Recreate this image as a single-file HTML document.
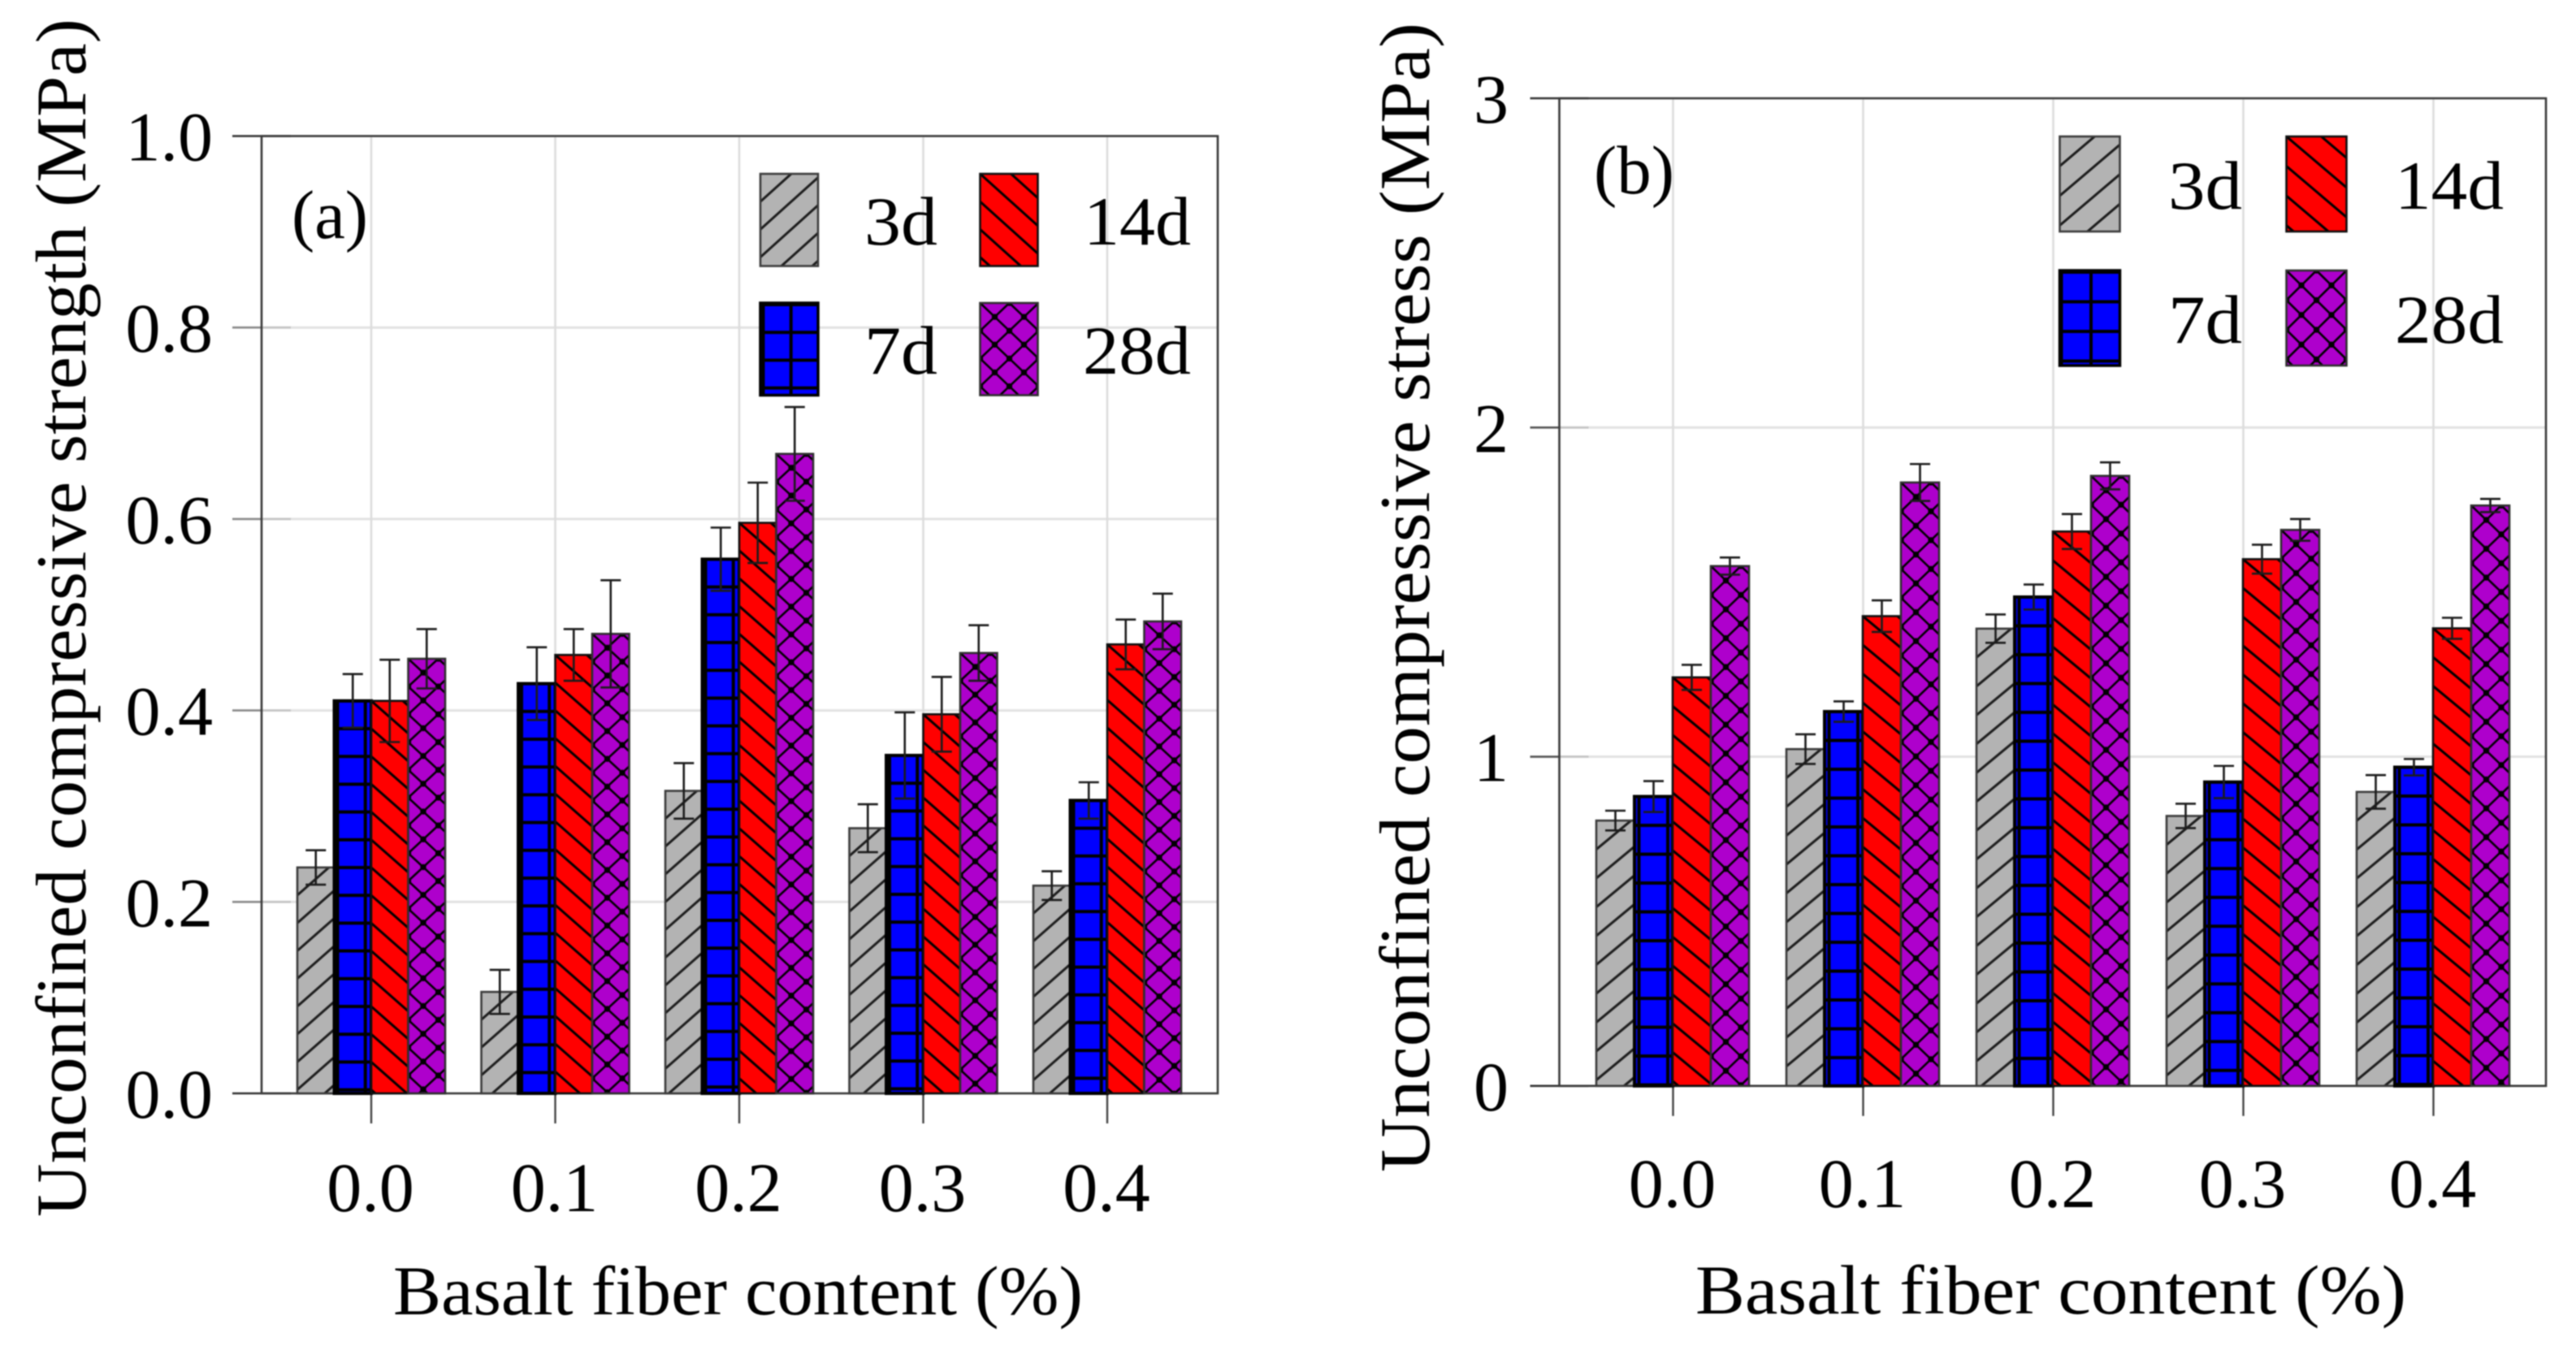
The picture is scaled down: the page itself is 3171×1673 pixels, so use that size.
<!DOCTYPE html>
<html>
<head>
<meta charset="utf-8">
<title>Unconfined compressive strength and stress vs basalt fiber content</title>
<style>
html,body{margin:0;padding:0;background:#fff;width:3171px;height:1673px;overflow:hidden}
#chart{display:block;filter:blur(0.7px)}
text{font-family:"Liberation Serif",serif;fill:#000}
</style>
</head>
<body>
<svg id="chart" xmlns="http://www.w3.org/2000/svg" width="3171" height="1673" viewBox="0 0 3171 1673">
  <defs id="defs"></defs>
  <g id="panel-a"></g>
  <g id="panel-b"></g>

  <text x="105" y="1498" font-size="88" textLength="1475" lengthAdjust="spacingAndGlyphs" transform="rotate(-90 105 1498)">Unconfined compressive strength (MPa)</text>
  <text x="484" y="1618" font-size="86" textLength="849" lengthAdjust="spacingAndGlyphs">Basalt fiber content (%)</text>
  <text x="359" y="293" font-size="85" textLength="94" lengthAdjust="spacingAndGlyphs">(a)</text>
  <text x="1064" y="301" font-size="85" textLength="90" lengthAdjust="spacingAndGlyphs">3d</text>
  <text x="1334" y="301" font-size="85" textLength="132" lengthAdjust="spacingAndGlyphs">14d</text>
  <text x="1064" y="460" font-size="85" textLength="90" lengthAdjust="spacingAndGlyphs">7d</text>
  <text x="1333" y="460" font-size="85" textLength="133" lengthAdjust="spacingAndGlyphs">28d</text>

  <text x="1759" y="1443" font-size="88" textLength="1415" lengthAdjust="spacingAndGlyphs" transform="rotate(-90 1759 1443)">Unconfined compressive stress (MPa)</text>
  <text x="2087" y="1617" font-size="86" textLength="875" lengthAdjust="spacingAndGlyphs">Basalt fiber content (%)</text>
  <text x="1962" y="238" font-size="85" textLength="99" lengthAdjust="spacingAndGlyphs">(b)</text>
  <text x="2669" y="257" font-size="85" textLength="91" lengthAdjust="spacingAndGlyphs">3d</text>
  <text x="2948" y="257" font-size="85" textLength="134" lengthAdjust="spacingAndGlyphs">14d</text>
  <text x="2669" y="422" font-size="85" textLength="91" lengthAdjust="spacingAndGlyphs">7d</text>
  <text x="2948" y="422" font-size="85" textLength="134" lengthAdjust="spacingAndGlyphs">28d</text>
</svg>

<script>
// ---------- chart data ----------
const categories = ['0.0', '0.1', '0.2', '0.3', '0.4'];
const seriesNames = ['3d', '7d', '14d', '28d'];

const yTickValuesA = [0, 0.2, 0.4, 0.6, 0.8, 1.0];
const yTickLabelsA = ['0.0', '0.2', '0.4', '0.6', '0.8', '1.0'];
const yTickValuesB = [0, 1, 2, 3];
const yTickLabelsB = ['0', '1', '2', '3'];

// Panel (a): unconfined compressive strength, MPa
const strength3d  = [0.236, 0.106, 0.316, 0.277, 0.217];
const strength7d  = [0.410, 0.428, 0.558, 0.353, 0.306];
const strength14d = [0.410, 0.458, 0.596, 0.396, 0.469];
const strength28d = [0.454, 0.480, 0.668, 0.460, 0.493];
const strengthErr3d  = [0.018, 0.023, 0.029, 0.025, 0.015];
const strengthErr7d  = [0.028, 0.038, 0.033, 0.045, 0.019];
const strengthErr14d = [0.043, 0.027, 0.042, 0.039, 0.026];
const strengthErr28d = [0.031, 0.056, 0.049, 0.029, 0.029];

// Panel (b): unconfined compressive stress, MPa
const stress3d  = [0.806, 1.023, 1.389, 0.820, 0.893];
const stress7d  = [0.879, 1.137, 1.485, 0.923, 0.968];
const stress14d = [1.241, 1.427, 1.684, 1.600, 1.390];
const stress28d = [1.579, 1.833, 1.853, 1.689, 1.763];
const stressErr3d  = [0.030, 0.045, 0.043, 0.037, 0.051];
const stressErr7d  = [0.047, 0.031, 0.038, 0.049, 0.025];
const stressErr14d = [0.038, 0.048, 0.053, 0.044, 0.032];
const stressErr28d = [0.026, 0.056, 0.041, 0.033, 0.020];

// ---------- drawing ----------
const NS = 'http://www.w3.org/2000/svg';
const defs = document.getElementById('defs');
let patternCount = 0;

function mk(tag, parent, attrs, txt) {
  const e = document.createElementNS(NS, tag);
  for (const k in attrs) e.setAttribute(k, attrs[k]);
  if (txt !== undefined) e.textContent = txt;
  parent.appendChild(e);
  return e;
}

const seriesFill = ['#b3b3b3', '#0000ff', '#ff0000', '#ae00cc'];
const seriesStroke = ['#3c3c3c', '#000000', '#101010', '#303030'];
const seriesStrokeW = [2.6, 4, 2.6, 2.6];

function hatchFill(seriesIdx, x, y, style) {
  const id = 'hatch' + (patternCount++);
  const h = style.period;
  const w = seriesIdx === 1 ? style.period : (seriesIdx === 3 ? style.knotW : style.period / style.slope);
  const p = mk('pattern', defs, {
    id: id, patternUnits: 'userSpaceOnUse', width: w, height: h,
    patternTransform: 'translate(' + x + ' ' + (y + (seriesIdx === 1 ? style.gridY : 0)) + ')'
  });
  mk('rect', p, {x: 0, y: 0, width: w, height: h, fill: seriesFill[seriesIdx]});
  const ln = (x1, y1, x2, y2, sw, col) => mk('line', p, {x1, y1, x2, y2, stroke: col, 'stroke-width': sw});
  const hatchCol = seriesIdx === 0 ? '#1c1c1c' : '#000';
  const hatchW = seriesIdx === 3 ? 2.6 : 3;
  if (seriesIdx === 0 || seriesIdx === 3) {
    [-w, 0, w].forEach(d => ln(-w + d, 2 * h, 2 * w + d, -h, hatchW, hatchCol));
  }
  if (seriesIdx === 2 || seriesIdx === 3) {
    [-w, 0, w].forEach(d => ln(-w + d, -h, 2 * w + d, 2 * h, hatchW, hatchCol));
  }
  if (seriesIdx === 1) {
    ln(0, 0, w, 0, 4, '#000');
    ln(0, h, w, h, 4, '#000');
    ln(style.gridX, 0, style.gridX, h, 4, '#000');
  }
  if (seriesIdx === 3) {
    mk('circle', p, {cx: w / 2, cy: h / 2, r: 3.7, fill: '#000'});
    [[0, 0], [w, 0], [0, h], [w, h]].forEach(c => mk('circle', p, {cx: c[0], cy: c[1], r: 3.7, fill: '#000'}));
  }
  return 'url(#' + id + ')';
}

function drawPanel(cfg) {
  const g = document.getElementById(cfg.gid);
  const yScale = v => cfg.y0 - (v / cfg.yMax) * (cfg.y0 - cfg.yTop);
  const catX = i => cfg.cat0 + i * cfg.catStep;
  const barX = (i, s) => cfg.bar0 + i * cfg.catStep + s * cfg.barW;

  // gridlines
  cfg.yTickValues.forEach(v => {
    const gl = mk('line', g, {x1: cfg.xLeft, x2: cfg.xRight, y1: yScale(v), y2: yScale(v), stroke: '#e2e2e2', 'stroke-width': 3});
    
    
  });
  categories.forEach((c, i) => {
    const gl = mk('line', g, {x1: catX(i), x2: catX(i), y1: cfg.yTop, y2: cfg.y0, stroke: '#dcdcdc', 'stroke-width': 2.5});
    
    
  });

  // y ticks and labels
  cfg.yTickValues.forEach((v, i) => {
    const outer = mk('line', g, {x1: cfg.xLeft - 36, x2: cfg.xLeft, y1: yScale(v), y2: yScale(v), stroke: v === 0 || v === cfg.yMax ? '#333' : cfg.tickCol, 'stroke-width': 2.6});
    
    
    const inner = mk('line', g, {x1: cfg.xLeft, x2: cfg.xLeft + 36, y1: yScale(v), y2: yScale(v), stroke: v === 0 || v === cfg.yMax ? '#444' : '#c4c4c4', 'stroke-width': 2.6});
    
    
    const lab = mk('text', g, {x: cfg.yLabelX, y: yScale(v) + 30, 'font-size': 86, 'text-anchor': 'end'}, cfg.yTickLabels[i]);
    
    
  });

  // x ticks and labels
  categories.forEach((c, i) => {
    const t = mk('line', g, {x1: catX(i), x2: catX(i), y1: cfg.y0, y2: cfg.y0 + 37, stroke: '#444', 'stroke-width': 2.4});
    
    
    const lab = mk('text', g, {x: catX(i) - 1, y: cfg.xLabelY, 'font-size': 86, 'text-anchor': 'middle'}, c);
    
    
  });

  // plot frame
  const frame = mk('path', g, {
    d: 'M' + cfg.xLeft + ' ' + cfg.y0 + ' V' + cfg.yTop + ' H' + cfg.xRight + ' V' + cfg.y0 + ' Z',
    fill: 'none', stroke: '#3a3a3a', 'stroke-width': 2.6
  });
  
  

  // bars
  cfg.values.forEach((vals, s) => {
    vals.forEach((v, i) => {
      const x = barX(i, s), top = yScale(v);
      const r = mk('rect', g, {
        x: x, y: top, width: cfg.barW, height: cfg.y0 - top,
        fill: hatchFill(s, x, top, cfg.hatch),
        stroke: seriesStroke[s], 'stroke-width': seriesStrokeW[s]
      });
      
      
      r.setAttribute('data-series', seriesNames[s]);
      r.setAttribute('data-category', categories[i]);
    });
  });

  // error bars, on top of all bars
  cfg.values.forEach((vals, s) => {
    vals.forEach((v, i) => {
      const cx = barX(i, s) + cfg.barW / 2;
      const e = cfg.errors[s][i];
      const yU = yScale(v + e), yL = yScale(v - e);
      const d = 'M' + cx + ' ' + yU + ' V' + yL +
        ' M' + (cx - 12.5) + ' ' + yU + ' H' + (cx + 12.5) +
        ' M' + (cx - 12.5) + ' ' + yL + ' H' + (cx + 12.5);
      const eb = mk('path', g, {d: d, fill: 'none', stroke: '#1c1c1c', 'stroke-width': 2.6});
      
      
    });
  });

  // legend swatches
  cfg.legend.forEach(sw => {
    const r = mk('rect', g, {
      x: sw.x, y: sw.y, width: cfg.legendW, height: cfg.legendH,
      fill: hatchFill(sw.s, sw.x, sw.y, cfg.legendHatch),
      stroke: seriesStroke[sw.s], 'stroke-width': sw.s === 1 ? 3.5 : 2.6
    });
    
    
  });
}

drawPanel({
  gid: 'panel-a',
  xLeft: 322, xRight: 1499, yTop: 167.5, y0: 1346, yMax: 1.0,
  cat0: 457, catStep: 226.5, bar0: 366, barW: 45.5,
  yLabelX: 262, xLabelY: 1491, tickCol: '#8a8a8a',
  yTickValues: yTickValuesA, yTickLabels: yTickLabelsA,
  values: [strength3d, strength7d, strength14d, strength28d],
  errors: [strengthErr3d, strengthErr7d, strengthErr14d, strengthErr28d],
  hatch: {period: 34.2, slope: 0.88, gridX: 4, gridY: 0, knotW: 37},
  legendHatch: {period: 34.2, slope: 0.9, gridX: 3.5, gridY: 2, knotW: 36},
  legendW: 71, legendH: 113.5,
  legend: [{s: 0, x: 936, y: 214}, {s: 2, x: 1206.5, y: 214}, {s: 1, x: 936, y: 373}, {s: 3, x: 1206.5, y: 373}]
});

drawPanel({
  gid: 'panel-b',
  xLeft: 1919.5, xRight: 3134, yTop: 121, y0: 1336.8, yMax: 3,
  cat0: 2059.5, catStep: 234, bar0: 1965, barW: 47,
  yLabelX: 1857, xLabelY: 1486, tickCol: '#555',
  yTickValues: yTickValuesB, yTickLabels: yTickLabelsB,
  values: [stress3d, stress7d, stress14d, stress28d],
  errors: [stressErr3d, stressErr7d, stressErr14d, stressErr28d],
  hatch: {period: 35.5, slope: 0.83, gridX: 5.5, gridY: 0, knotW: 37},
  legendHatch: {period: 36.5, slope: 0.85, gridX: 2, gridY: 2, knotW: 37},
  legendW: 74, legendH: 117,
  legend: [{s: 0, x: 2535.5, y: 168}, {s: 2, x: 2814.5, y: 168}, {s: 1, x: 2535.5, y: 333}, {s: 3, x: 2814.5, y: 333}]
});
</script>
</body>
</html>
